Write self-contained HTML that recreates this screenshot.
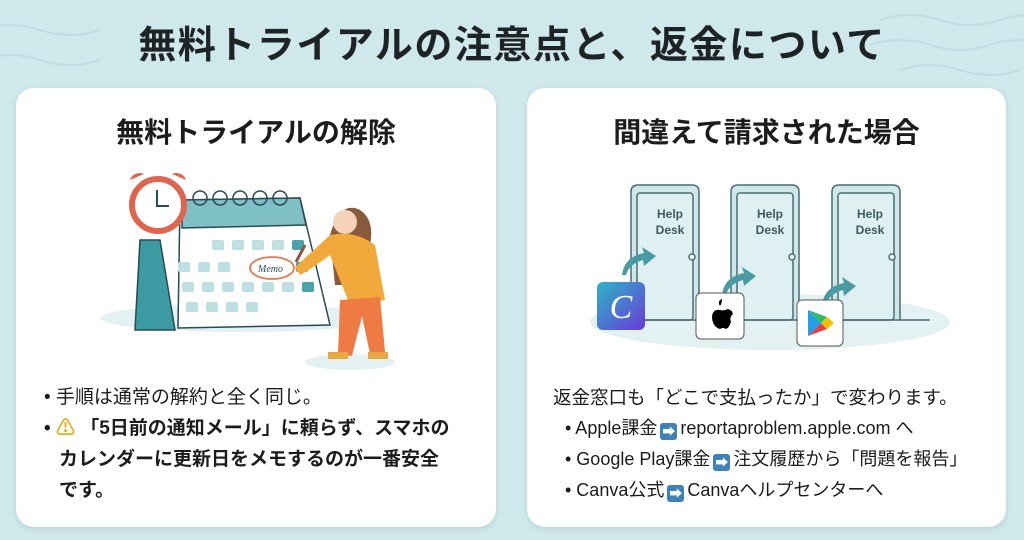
<!DOCTYPE html>
<html><head><meta charset="utf-8"><style>
*{margin:0;padding:0;box-sizing:border-box}
body{width:1024px;height:540px;overflow:hidden;background:#cfe8ec;font-family:"Liberation Sans","Noto Sans CJK JP",sans-serif;position:relative;color:#1c1c1c}
.t{position:absolute;left:0;width:1024px;top:14px;text-align:center;font-size:38px;font-weight:bold;color:#1e2326;letter-spacing:1.5px}
.card{position:absolute;top:88px;height:439px;background:#fff;border-radius:18px;box-shadow:0 2px 6px rgba(0,60,80,.12)}
.h{position:absolute;left:0;right:0;top:23px;text-align:center;font-size:28px;font-weight:bold}
.l{position:absolute;font-size:19px;white-space:nowrap;line-height:31px}
.b{font-weight:bold}
.ar{display:inline-block;width:17px;height:17px;background:#3f82b8;border-radius:3px;color:#fff;font-size:13px;line-height:17px;text-align:center;vertical-align:-2px;margin:0 3px}
</style></head><body>
<svg style="position:absolute;left:0;top:0" width="1024" height="540">
<g fill="none" stroke="#bddde2" stroke-width="2">
<path d="M880 20 q30 -10 60 0 t60 0 t60 0"/><path d="M870 45 q30 -10 60 0 t60 0 t60 0"/><path d="M900 70 q30 -10 60 0 t60 0"/>
<path d="M-20 30 q30 -10 60 0 t60 0"/><path d="M-20 60 q30 -10 60 0 t60 0"/>
</g></svg>
<div class="t">無料トライアルの注意点と、返金について</div>

<div class="card" style="left:16px;width:480px">
<div class="h">無料トライアルの解除</div>
<svg style="position:absolute;left:84px;top:84px" width="320" height="200" viewBox="100 172 320 200">
<ellipse cx="240" cy="318" rx="140" ry="14" fill="#e3f1f3"/>
<ellipse cx="350" cy="362" rx="45" ry="8" fill="#e3f1f3"/>
<polygon points="140,240 160,240 175,330 135,330" fill="#3c9aa3" stroke="#2a4a55" stroke-width="1.5"/>
<path d="M180 200 L300 198 L330 325 L178 328 Z" fill="#fff" stroke="#2a4a55" stroke-width="1.5"/>
<path d="M182 200 L300 198 L306 225 L182 228 Z" fill="#7fbfc6" stroke="#2a4a55" stroke-width="1.5"/>
<g fill="none" stroke="#2a4a55" stroke-width="1.5"><circle cx="200" cy="198" r="7"/><circle cx="220" cy="198" r="7"/><circle cx="240" cy="198" r="7"/><circle cx="260" cy="198" r="7"/><circle cx="280" cy="198" r="7"/></g>
<g fill="#bfe0e3">
<rect x="212" y="240" width="12" height="10" rx="2"/><rect x="232" y="240" width="12" height="10" rx="2"/><rect x="252" y="240" width="12" height="10" rx="2"/><rect x="272" y="240" width="12" height="10" rx="2"/>
<rect x="178" y="262" width="12" height="10" rx="2"/><rect x="198" y="262" width="12" height="10" rx="2"/><rect x="218" y="262" width="12" height="10" rx="2"/>
<rect x="182" y="282" width="12" height="10" rx="2"/><rect x="202" y="282" width="12" height="10" rx="2"/><rect x="222" y="282" width="12" height="10" rx="2"/><rect x="242" y="282" width="12" height="10" rx="2"/><rect x="262" y="282" width="12" height="10" rx="2"/><rect x="282" y="282" width="12" height="10" rx="2"/>
<rect x="186" y="302" width="12" height="10" rx="2"/><rect x="206" y="302" width="12" height="10" rx="2"/><rect x="226" y="302" width="12" height="10" rx="2"/><rect x="246" y="302" width="12" height="10" rx="2"/>
</g>
<rect x="292" y="240" width="12" height="10" rx="2" fill="#4aa3ab"/><rect x="296" y="262" width="12" height="10" rx="2" fill="#4aa3ab"/><rect x="302" y="282" width="12" height="10" rx="2" fill="#4aa3ab"/>
<ellipse cx="272" cy="268" rx="22" ry="11" fill="#fff" stroke="#e07a50" stroke-width="1.8"/>
<text x="258" y="272" font-size="10" font-style="italic" fill="#2a4a55" font-family="Liberation Serif,serif">Memo</text>
<circle cx="158" cy="205" r="26" fill="#fff" stroke="#e06550" stroke-width="6"/>
<path d="M130 180 a10 10 0 0 1 14 -6 z" fill="#e06550"/><path d="M186 180 a10 10 0 0 0 -14 -6 z" fill="#e06550"/>
<path d="M157 190 v16 h12" stroke="#2a4a55" stroke-width="2" fill="none"/>
<path d="M330 235 q10 -35 30 -25 q15 10 10 35 l-5 40 h-30 z" fill="#8a5a3c"/>
<circle cx="345" cy="222" r="12" fill="#f6d3b8"/>
<path d="M330 235 q25 -5 45 10 l10 55 l-35 5 l-20 -50 q-20 15 -30 20 l-5 -8 q20 -18 35 -32z" fill="#f2a93b"/>
<path d="M340 300 l40 -3 l5 55 l-15 2 l-8 -38 l-10 40 l-14 -2 z" fill="#ee7a44"/>
<rect x="328" y="352" width="20" height="7" fill="#e8a840"/><rect x="368" y="352" width="20" height="7" fill="#e8a840"/>
<line x1="296" y1="262" x2="305" y2="245" stroke="#8a5a3c" stroke-width="3"/>
</svg>
<div class="l" style="left:28px;top:294px">• 手順は通常の解約と全く同じ。</div>
<div class="l b" style="left:28px;top:325px">• <span style="color:#e8b020">⚠</span> 「5日前の通知メール」に頼らず、スマホの</div>
<div class="l b" style="left:43px;top:356px">カレンダーに更新日をメモするのが一番安全</div>
<div class="l b" style="left:43px;top:387px">です。</div>
</div>

<div class="card" style="left:527px;width:479px">
<div class="h">間違えて請求された場合</div>
<svg style="position:absolute;left:53px;top:92px" width="380" height="180" viewBox="580 180 380 180">
<ellipse cx="770" cy="322" rx="180" ry="28" fill="#e3f1f3"/>
<g stroke="#4a6d75" stroke-width="1.5" fill="#cfe7ea">
<path d="M631 320 V192 q0 -7 7 -7 h54 q7 0 7 7 V320"/><rect x="637" y="193" width="56" height="127" rx="3" fill="#dff0f2"/>
<path d="M731 320 V192 q0 -7 7 -7 h54 q7 0 7 7 V320"/><rect x="737" y="193" width="56" height="127" rx="3" fill="#dff0f2"/>
<path d="M832 320 V192 q0 -7 7 -7 h54 q7 0 7 7 V320"/><rect x="838" y="193" width="56" height="127" rx="3" fill="#dff0f2"/>
<circle cx="692" cy="257" r="3" fill="#fff"/><circle cx="792" cy="257" r="3" fill="#fff"/><circle cx="892" cy="257" r="3" fill="#fff"/>
</g>
<line x1="630" y1="320" x2="930" y2="320" stroke="#4a6d75" stroke-width="1.5"/>
<g font-family="Liberation Sans,sans-serif" font-weight="bold" font-size="12" fill="#3d5a62" text-anchor="middle">
<text x="670" y="218">Help</text><text x="670" y="234">Desk</text>
<text x="770" y="218">Help</text><text x="770" y="234">Desk</text>
<text x="870" y="218">Help</text><text x="870" y="234">Desk</text>
</g>
<g fill="#4a9aa3">
<path d="M622 275 q2 -18 22 -22 l-2 -6 l14 9 l-12 10 l-1 -6 q-14 4 -17 15z"/>
<path d="M722 295 q2 -18 22 -22 l-2 -6 l14 9 l-12 10 l-1 -6 q-14 4 -17 15z"/>
<path d="M822 305 q2 -18 22 -22 l-2 -6 l14 9 l-12 10 l-1 -6 q-14 4 -17 15z"/>
</g>
<defs><linearGradient id="cg" x1="0" y1="0" x2="1" y2="1"><stop offset="0" stop-color="#2bb5c8"/><stop offset="1" stop-color="#6a3ad8"/></linearGradient></defs>
<rect x="597" y="282" width="48" height="48" rx="6" fill="url(#cg)"/>
<text x="621" y="318" font-family="Liberation Serif,serif" font-style="italic" font-size="34" fill="#fff" text-anchor="middle">C</text>
<rect x="696" y="293" width="48" height="46" rx="5" fill="#fff" stroke="#555" stroke-width="1"/>
<path d="M720 306 q-3 -5 2 -7 q0 4 -2 7z M712 318 q0 -9 8 -8 q4 1 8 -1 q4 1 5 5 q-4 3 -2 8 q-2 6 -5 7 q-3 -2 -6 0 q-7 -2 -8 -11z" fill="#000"/>
<rect x="797" y="300" width="46" height="46" rx="5" fill="#fff" stroke="#555" stroke-width="1"/>
<path d="M808 310 L808 336 L821 323 Z" fill="#1fa0e8"/><path d="M808 310 L821 323 L827 317 Z" fill="#2fbb60"/><path d="M808 336 L821 323 L827 329 Z" fill="#e8404a"/><path d="M821 323 L827 317 L834 323 L827 329 Z" fill="#f6c000"/>
</svg>
<div class="l" style="left:26px;top:294px;font-size:18.5px">返金窓口も「どこで支払ったか」で変わります。</div>
<div class="l" style="left:38px;top:325px;font-size:18px">• Apple課金<span class="ar">➡</span>reportaproblem.apple.com へ</div>
<div class="l" style="left:38px;top:356px;font-size:18px">• Google Play課金<span class="ar">➡</span>注文履歴から「問題を報告」</div>
<div class="l" style="left:38px;top:387px;font-size:18px">• Canva公式<span class="ar">➡</span>Canvaヘルプセンターへ</div>
</div>
</body></html>
